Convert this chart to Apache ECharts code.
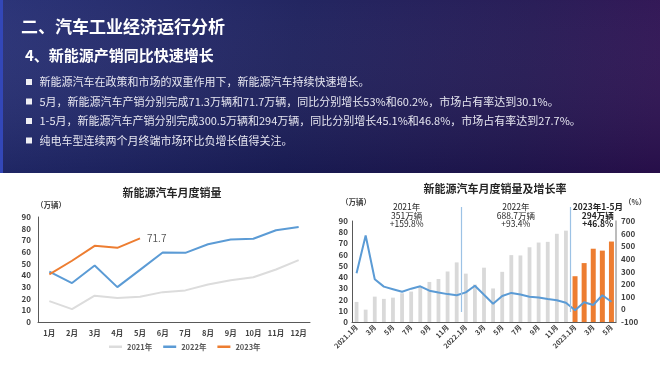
<!DOCTYPE html>
<html>
<head>
<meta charset="utf-8">
<script src="https://cdn.jsdelivr.net/npm/echarts@6/dist/echarts.min.js"></script>
<style>
html,body{margin:0;padding:0;background:#fff;}
#c{width:660px;height:371px;}
</style>
</head>
<body>
<div id="c"></div>
<script>
// ---------- data ----------
const months = ['1月','2月','3月','4月','5月','6月','7月','8月','9月','10月','11月','12月'];
const sales2021 = [17.9, 11.0, 22.6, 20.6, 21.7, 25.6, 27.1, 32.1, 35.7, 38.3, 45.0, 53.1];
const sales2022 = [43.1, 33.4, 48.4, 29.9, 44.7, 59.6, 59.3, 66.6, 70.8, 71.4, 78.6, 81.4];
const sales2023 = [40.8, 52.5, 65.3, 63.6, 71.7];
const seriesNames = ['2021年', '2022年', '2023年'];
const growthRate = [285.8, 585.4, 238.5, 180.3, 159.9, 139.3, 164.0, 182.7, 148.0, 133.5, 120.9, 112.5,
                    134.6, 187.0, 115.3, 44.6, 105.6, 130.5, 117.3, 99.9, 93.9, 81.7, 72.3, 51.8,
                    -6.3, 55.9, 34.8, 112.2, 60.2];
const periodNotes = ['2021年\n351万辆\n+159.8%', '2022年\n688.7万辆\n+93.4%', '2023年1-5月\n294万辆\n+46.8%'];
const headerTitle = '二、汽车工业经济运行分析';
const headerSub = '4、新能源产销同比快速增长';
const bullets = [
  '新能源汽车在政策和市场的双重作用下，新能源汽车持续快速增长。',
  '5月，新能源汽车产销分别完成71.3万辆和71.7万辆，同比分别增长53%和60.2%，市场占有率达到30.1%。',
  '1-5月，新能源汽车产销分别完成300.5万辆和294万辆，同比分别增长45.1%和46.8%，市场占有率达到27.7%。',
  '纯电车型连续两个月终端市场环比负增长值得关注。'
];
const chartTitles = ['新能源汽车月度销量', '新能源汽车月度销量及增长率'];

// derived
const monthly = [];
[['2021', 12], ['2022', 12], ['2023', 5]].forEach(([y, n]) => {
  for (let m = 1; m <= n; m++) monthly.push(m === 1 ? y + '.1月' : m + '月');
});
const grayBars = sales2021.concat(sales2022, sales2023.map(() => null));
const orangeBars = sales2021.map(() => null).concat(sales2022.map(() => null), sales2023);

const FONT = '"Noto Sans CJK SC", "Noto Sans", sans-serif';
const chart = echarts.init(document.getElementById('c'), null, {renderer: 'canvas'});

function txt(id, x, y, text, size, opts) {
  opts = opts || {};
  return {
    type: 'text', id: id, x: x, y: y, z: 100,
    style: {
      text: text, fill: opts.fill || '#333', fontSize: size,
      fontWeight: opts.weight || 'bold', fontFamily: FONT,
      align: opts.align || 'left', textAlign: opts.align || 'left',
      verticalAlign: 'middle', textVerticalAlign: 'middle',
      lineHeight: opts.lineHeight
    }
  };
}

const graphics = [
  {type: 'rect', id: 'hdr', shape: {x: 0, y: 0, width: 660, height: 173}, z: 1,
   style: {fill: new echarts.graphic.LinearGradient(0, 0, 1, 0.4, [
     {offset: 0, color: '#252e74'}, {offset: 0.45, color: '#1c1f5c'}, {offset: 0.8, color: '#231753'}, {offset: 1, color: '#2d1152'}])}},
  {type: 'rect', id: 'hdrshade', shape: {x: 0, y: 0, width: 660, height: 173}, z: 2,
   style: {fill: new echarts.graphic.LinearGradient(0, 0, 0, 1, [
     {offset: 0, color: 'rgba(255,255,255,0.03)'}, {offset: 1, color: 'rgba(0,0,20,0.15)'}])}},
  {type: 'rect', id: 'stripe', shape: {x: 0, y: 0, width: 3, height: 173}, z: 3, style: {fill: '#3347b8'}},
  txt('t1', 21, 27, headerTitle, 17, {fill: '#ffffff'}),
  txt('t2', 25, 55, headerSub, 15, {fill: '#ffffff'}),
  txt('lt', 172, 193, chartTitles[0], 11, {fill: '#262626', align: 'center'}),
  txt('rt', 495, 189, chartTitles[1], 11, {fill: '#262626', align: 'center'}),
  txt('u1', 36, 205, '（万辆）', 7.5, {fill: '#404040'}),
  txt('u2', 341, 202, '（万辆）', 7.5, {fill: '#404040'}),
  txt('u3', 624, 202, '（%）', 7.5, {fill: '#404040'})
];
const bulletY = [82, 101.5, 121, 140.5];
bullets.forEach((b, i) => {
  graphics.push({type: 'rect', id: 'bs' + i, shape: {x: 26, y: bulletY[i] - 3, width: 6, height: 6}, z: 10, style: {fill: '#f0f0f5'}});
  graphics.push(txt('bt' + i, 39.5, bulletY[i], b, 11, {fill: '#e6e6f0', weight: 'normal'}));
});

const axisLabelStyle = {fontSize: 8, fontWeight: 'bold', color: '#404040', fontFamily: FONT};

chart.setOption({
  animation: false,
  textStyle: {fontFamily: FONT},
  grid: [
    {left: 38, top: 217, width: 272, height: 105},
    {left: 352, top: 221, width: 264, height: 101}
  ],
  legend: {
    data: seriesNames, left: 104, top: 338, icon: 'rect', itemWidth: 13, itemHeight: 2.5, itemGap: 11,
    textStyle: {fontSize: 7.5, fontWeight: 'bold', color: '#595959', fontFamily: FONT}
  },
  xAxis: [
    {gridIndex: 0, type: 'category', data: months,
     axisLine: {lineStyle: {color: '#595959', width: 1}}, axisTick: {show: false},
     axisLabel: Object.assign({}, axisLabelStyle, {fontSize: 7.5, margin: 7, interval: 0})},
    {gridIndex: 1, type: 'category', data: monthly,
     axisLine: {lineStyle: {color: '#595959', width: 1}}, axisTick: {show: false},
     axisLabel: Object.assign({}, axisLabelStyle, {fontSize: 7, rotate: 45, interval: 1, margin: 4})},
    {gridIndex: 1, type: 'category', data: monthly, show: false}
  ],
  yAxis: [
    {gridIndex: 0, type: 'value', min: 0, max: 90, interval: 10,
     axisLine: {show: true, lineStyle: {color: '#595959'}}, splitLine: {show: false},
     axisLabel: Object.assign({}, axisLabelStyle, {margin: 7})},
    {gridIndex: 1, type: 'value', min: 0, max: 90, interval: 10,
     axisLine: {show: true, lineStyle: {color: '#595959'}}, splitLine: {show: false},
     axisLabel: Object.assign({}, axisLabelStyle, {margin: 4})},
    {gridIndex: 1, type: 'value', position: 'right', min: -100, max: 700, interval: 100,
     axisLine: {show: true, lineStyle: {color: '#a6a6a6', width: 1.5}}, splitLine: {show: false},
     axisLabel: Object.assign({}, axisLabelStyle, {margin: 5})}
  ],
  series: [
    {name: seriesNames[0], type: 'line', xAxisIndex: 0, yAxisIndex: 0, data: sales2021, symbol: 'none',
     lineStyle: {color: '#dcdcdc', width: 2}, itemStyle: {color: '#dcdcdc'}},
    {name: seriesNames[1], type: 'line', xAxisIndex: 0, yAxisIndex: 0, data: sales2022, symbol: 'none',
     lineStyle: {color: '#5b9bd5', width: 2}, itemStyle: {color: '#5b9bd5'}},
    {name: seriesNames[2], type: 'line', xAxisIndex: 0, yAxisIndex: 0, symbol: 'none', data: sales2023,
     endLabel: {show: true, formatter: '{c}', distance: 7, fontSize: 10, color: '#595959', fontFamily: FONT},
     lineStyle: {color: '#ed7d31', width: 2}, itemStyle: {color: '#ed7d31'}},
    {name: 'bars', type: 'bar', xAxisIndex: 1, yAxisIndex: 1, data: grayBars, barWidth: 3.8,
     itemStyle: {color: '#d9d9d9'}},
    {name: 'bars23', type: 'bar', xAxisIndex: 2, yAxisIndex: 1, data: orangeBars, barWidth: 5,
     itemStyle: {color: '#ed7d31'}},
    {name: 'growth', type: 'line', xAxisIndex: 1, yAxisIndex: 2, data: growthRate, symbol: 'none', z: 5,
     lineStyle: {color: '#5b9bd5', width: 2}, itemStyle: {color: '#5b9bd5'}}
  ],
  graphic: graphics
});

// period separators and notes placed via the axis scale (by category index)
function px(idx) { return chart.convertToPixel({xAxisIndex: 1}, idx); }
const boundary = i => (px(i - 1) + px(i)) / 2;
const dyn = [];
[12, 24].forEach((b, k) => {
  const x = Math.round(boundary(b)) + 0.5;
  dyn.push({type: 'line', id: 'sep' + k, z: 50,
    shape: {x1: x, y1: 207, x2: x, y2: 312},
    style: {stroke: '#9cc2e5', lineWidth: 1.2}});
});
const noteCenters = [boundary(6), boundary(18), boundary(27)];
periodNotes.forEach((n, k) => {
  dyn.push(txt('note' + k, noteCenters[k], 215.5, n, 8.5, {fill: '#262626', align: 'center', lineHeight: 8.7, weight: k === 2 ? 'bold' : 'normal'}));
});
chart.setOption({graphic: dyn});
</script>
</body>
</html>
